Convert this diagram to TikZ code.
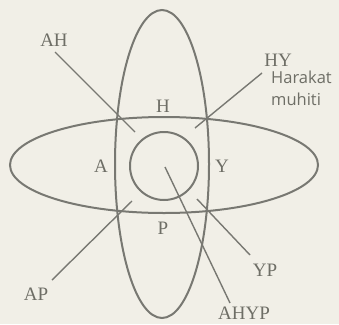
\documentclass[tikz,border=0pt]{standalone}
\usepackage{fontspec}
\setmainfont{Liberation Serif}
\newfontfamily\notefont{Open Sans}
\usepackage{tikz}
\usetikzlibrary{positioning}
\definecolor{paper}{RGB}{241,239,231}
\definecolor{ink}{RGB}{120,120,114}
\definecolor{inktext}{RGB}{110,110,102}
\tikzset{
  loop/.style={draw=ink, line width=2pt},
  ptr/.style={draw=ink, line width=1.4pt},
  lbl/.style={font=\fontsize{19}{21}\selectfont, text=inktext, inner sep=0pt},
  note/.style={font=\notefont\fontsize{16.5}{21.5}\selectfont, text=inktext,
               inner sep=0pt, align=left},
}
\begin{document}
\begin{tikzpicture}[x=1pt, y=-1pt]
  \fill[paper] (0,0) rectangle (339,324);
  \useasboundingbox (0,0) rectangle (339,324);
  % the three loops
  \draw[loop] (162,164) ellipse [x radius=47, y radius=154];
  \draw[loop] (164,165) ellipse [x radius=154, y radius=48];
  \draw[loop] (164,166) circle [radius=34];
  % region letters
  \node[lbl] (h) at (163,106) {H};
  \node[lbl] (a) at (101,166) {A};
  \node[lbl] (y) at (222,166) {Y};
  \node[lbl] (p) at (163,228) {P};
  % outer labels
  \node[lbl] (ah) at (54,40) {AH};
  \node[lbl] (hy) at (278,60) {HY};
  \node[note, anchor=north west] (env) at (271,71) {Harakat\\muhiti};
  \node[lbl] (ap) at (36,294) {AP};
  \node[lbl] (yp) at (265,270) {YP};
  \node[lbl] (ahyp) at (244,313) {AHYP};
  % pointer ends
  \coordinate (ahA) at (55,52);   \coordinate (ahB) at (135,132);
  \coordinate (hyA) at (262,73);  \coordinate (hyB) at (195,128);
  \coordinate (apA) at (52,280);  \coordinate (apB) at (132,201);
  \coordinate (ypA) at (250,255); \coordinate (ypB) at (197,199);
  \coordinate (allA) at (230,303); \coordinate (allB) at (165,167);
  \draw[ptr] (ahA) -- (ahB);
  \draw[ptr] (hyA) -- (hyB);
  \draw[ptr] (apA) -- (apB);
  \draw[ptr] (ypA) -- (ypB);
  \draw[ptr] (allA) -- (allB);
\end{tikzpicture}
\end{document}
